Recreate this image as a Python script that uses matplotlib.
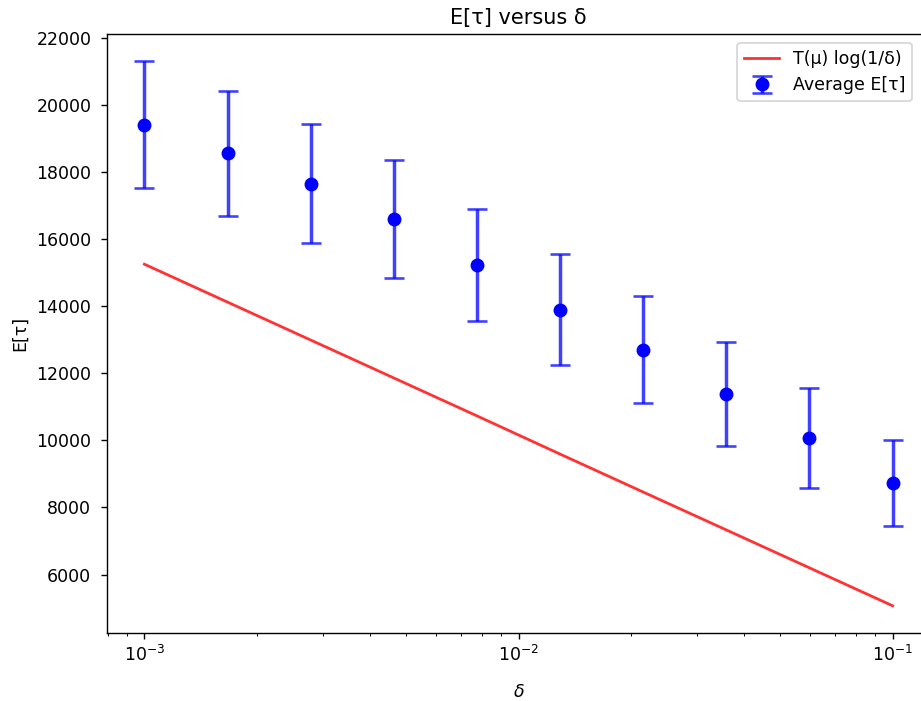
import numpy as np
import matplotlib.pyplot as plt

# delta values used in the experiment
deltas = [1e-3, 1.668e-3, 2.783e-3, 4.642e-3, 7.743e-3,
          1.292e-2, 2.154e-2, 3.594e-2, 5.995e-2, 1e-1]

# average stopping time and its spread over the runs
mean_tau = [19410, 18560, 17650, 16590, 15240, 13900, 12700, 11380, 10060, 8730]
std_tau = [1890, 1860, 1780, 1760, 1670, 1640, 1590, 1540, 1490, 1290]

# theoretical bound T(mu) log(1/delta) at the same deltas
bound = [15250, 14120, 12990, 11860, 10730, 9590, 8460, 7330, 6200, 5070]

plt.rcParams.update({
    "font.family": "DejaVu Sans",
    "font.size": 10,
})

fig = plt.figure(figsize=(921 / 125, 701 / 125), dpi=125)
ax = fig.add_axes([107 / 921, 68 / 701, (930 - 107) / 921, (633 - 34) / 701])

ax.plot(deltas, bound, color='red', alpha=0.8, linewidth=1.6,
        label=r'T(μ) log(1/δ)')
ax.errorbar(deltas, mean_tau, yerr=std_tau, fmt='o', color='blue',
            ecolor='blue', elinewidth=2, capsize=5.5, capthick=1.5,
            markersize=7, label='Average E[τ]')
# lighter error bars, solid markers
for coll in ax.collections:
    coll.set_alpha(0.75)
for line in ax.lines[1:]:
    if line.get_marker() in ('_', '|'):
        line.set_alpha(0.75)

ax.set_xscale('log')
ax.set_xlabel(r'$\delta$', labelpad=10)
ax.set_ylabel('E[τ]')
ax.set_title('E[τ] versus δ')
ax.set_yticks(np.arange(6000, 22001, 2000))
ax.tick_params(axis='y', pad=5.5)

ax.legend(loc='upper right', bbox_to_anchor=(1.0, (701 - 34) / 701),
          bbox_transform=fig.transFigure)

plt.savefig('out.png', dpi=125)
